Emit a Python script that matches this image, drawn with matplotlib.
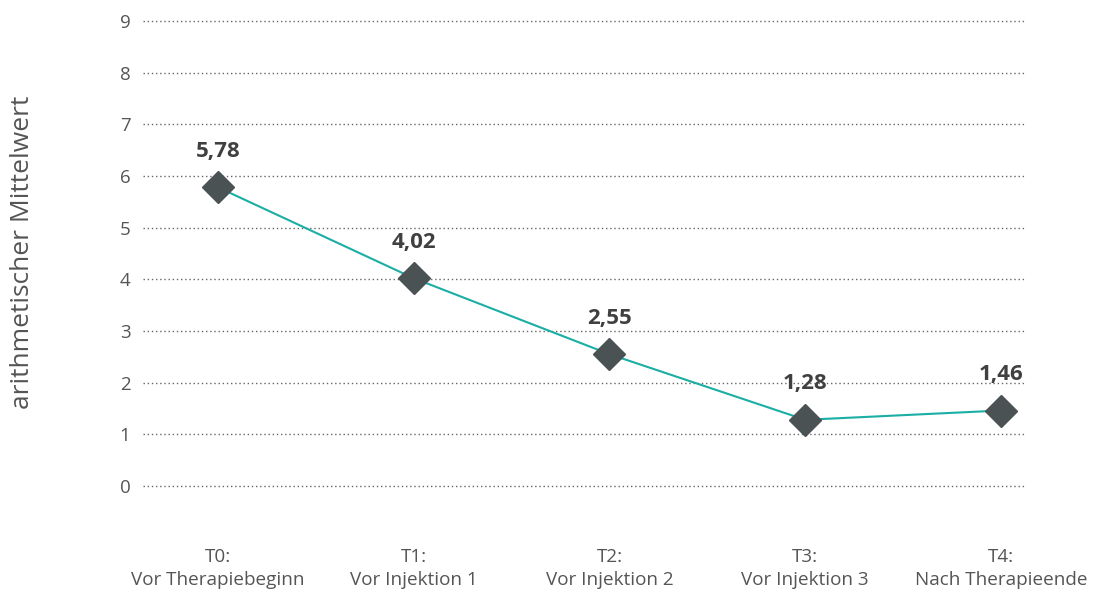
import matplotlib
matplotlib.use("Agg")
import matplotlib.pyplot as plt
import numpy as np

# --- datos ---
categorias = ["T0:\nVor Therapiebeginn", "T1:\nVor Injektion 1", "T2:\nVor Injektion 2",
              "T3:\nVor Injektion 3", "T4:\nNach Therapieende"]
mittelwert = [5.78, 4.02, 2.55, 1.28, 1.46]
etiquetas = ["5,78", "4,02", "2,55", "1,28", "1,46"]
y_ticks = list(range(0, 10))

plt.rcParams.update({
    "font.family": ["Open Sans", "DejaVu Sans"],
    "font.size": 13,
})
C_LINE = "#1aaea5"
C_MARK = "#4b5254"
C_TEXT = "#555555"

fig = plt.figure(figsize=(10.99, 5.99), dpi=100)
ax = fig.add_axes([0.1301, 0.1456, 0.8026, 0.8367])

x = np.arange(len(categorias))
ax.plot(x, mittelwert, "-", color=C_LINE, lw=1.5, zorder=2)
ax.plot(x, mittelwert, "D", color=C_MARK, ms=16, zorder=3)

for xi, v, t in zip(x, mittelwert, etiquetas):
    ax.annotate(t, (xi, v), textcoords="offset points", xytext=(0, 26),
                ha="center", va="center", fontsize=16, fontweight="bold",
                color="#404040", zorder=4)

ax.set_xlim(-0.383, 4.123)
ax.set_ylim(-0.5, 9.2)
ax.set_yticks(y_ticks)
ax.set_xticks(x)
ax.set_xticklabels(categorias, linespacing=1.35)
ax.tick_params(axis="both", length=0, colors=C_TEXT)
ax.tick_params(axis="x", labelsize=13.6, pad=26)
ax.tick_params(axis="y", labelsize=13.5, pad=9)
ax.grid(axis="y", linestyle=(0, (1, 2)), color="#666666", lw=1.0)
ax.grid(axis="x", visible=False)
for s in ax.spines.values():
    s.set_visible(False)
ax.set_ylabel("arithmetischer Mittelwert", fontsize=19, color=C_TEXT, va="center")
ax.yaxis.set_label_coords(-0.137, 0.518)

fig.savefig("out.png", facecolor="white")
